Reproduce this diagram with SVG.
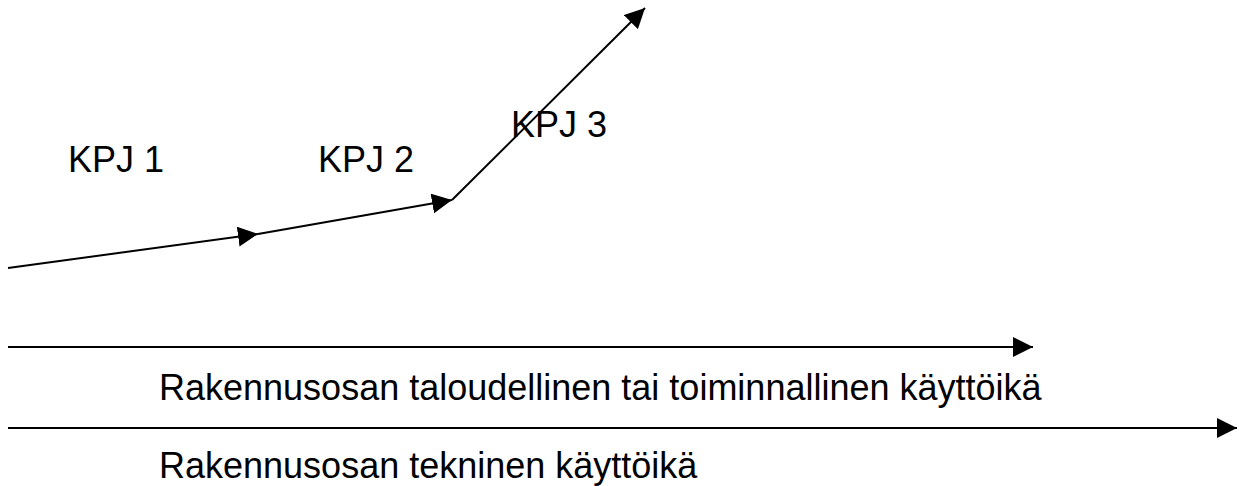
<svg xmlns="http://www.w3.org/2000/svg" width="1239" height="486" viewBox="0 0 1239 486">
<defs>
<marker id="ah" markerWidth="20" markerHeight="20" refX="20" refY="10" orient="auto" markerUnits="userSpaceOnUse">
<path d="M0,0 L20,10 L0,20 Z" fill="#000"/>
</marker>
<style>
.ln{stroke:#000;stroke-width:2;fill:none;marker-end:url(#ah)}
.t{font-family:"Liberation Sans",Arial,sans-serif;font-size:36px;fill:#000}
</style>
</defs>
<rect width="1239" height="486" fill="#fff"/>
<g id="connectors">
<line class="ln" x1="8" y1="268" x2="258" y2="234"/>
<line class="ln" x1="258" y1="234" x2="452" y2="200"/>
<line class="ln" x1="452" y1="200" x2="645" y2="8"/>
<line class="ln" x1="8" y1="347" x2="1033" y2="347"/>
<line class="ln" x1="8" y1="428" x2="1237" y2="428"/>
</g>
<g id="kpj1"><text class="t" x="68" y="172">KPJ 1</text></g>
<g id="kpj2"><text class="t" x="318" y="172">KPJ 2</text></g>
<g id="kpj3"><text class="t" x="511" y="137">KPJ 3</text></g>
<g id="label1"><text class="t" x="159" y="400">Rakennusosan taloudellinen tai toiminnallinen käyttöikä</text></g>
<g id="label2"><text class="t" x="159" y="478">Rakennusosan tekninen käyttöikä</text></g>
</svg>
